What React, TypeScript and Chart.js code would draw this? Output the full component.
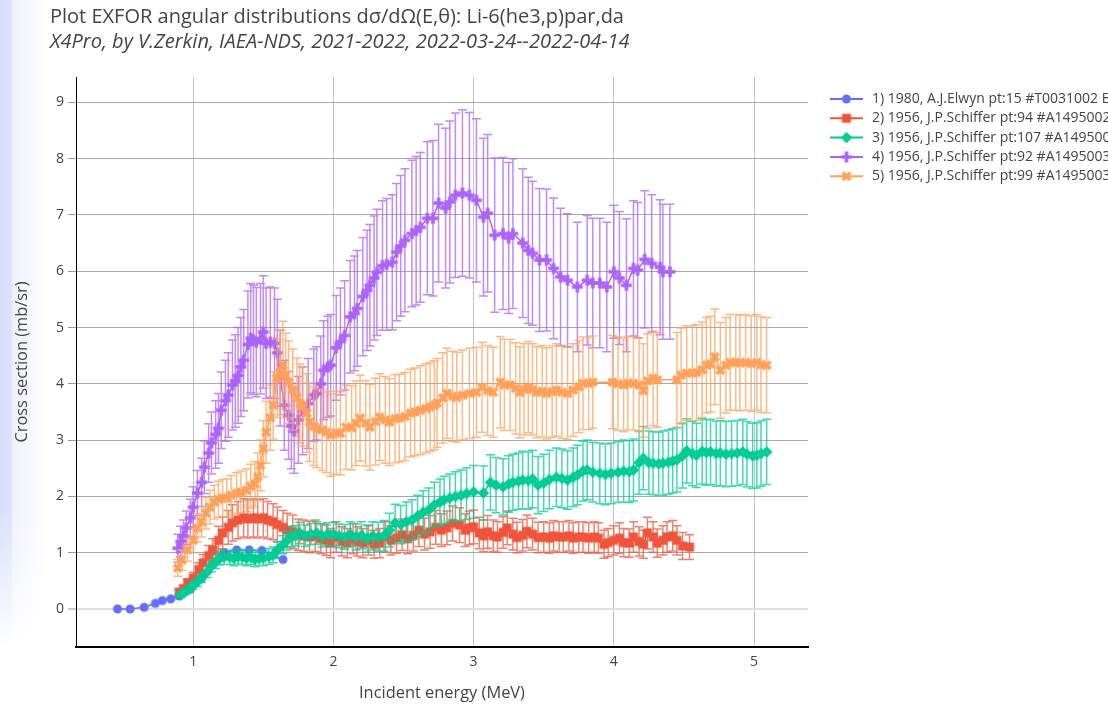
import React, { useEffect, useRef } from 'react';
import { Chart, registerables } from 'chart.js';

Chart.register(...registerables);

const TITLE = 'Plot EXFOR angular distributions dσ/dΩ(E,θ): Li-6(he3,p)par,da';
const SUBTITLE = 'X4Pro, by V.Zerkin, IAEA-NDS, 2021-2022, 2022-03-24--2022-04-14';
const X_LABEL = 'Incident energy (MeV)';
const Y_LABEL = 'Cross section (mb/sr)';
const X_TICKS = [1, 2, 3, 4, 5];
const Y_TICKS = [0, 1, 2, 3, 4, 5, 6, 7, 8, 9];

const LABELS = [
  '1) 1980, A.J.Elwyn pt:15 #T0031002 Elab',
  '2) 1956, J.P.Schiffer pt:94 #A1495002',
  '3) 1956, J.P.Schiffer pt:107 #A1495003',
  '4) 1956, J.P.Schiffer pt:92 #A1495003',
  '5) 1956, J.P.Schiffer pt:99 #A1495003',
];
const COLORS = ['#636efa', '#EF553B', '#00cc96', '#ab63fa', '#FFA15A'];
const SYMBOLS = ['circle', 'square', 'diamond', 'cross', 'x'];

// 1) Elwyn
const S1_X = [0.46, 0.55, 0.65, 0.73, 0.78, 0.84, 0.90, 0.98, 1.06, 1.14, 1.22, 1.31, 1.40, 1.49, 1.64];
const S1_Y = [0.00, 0.00, 0.03, 0.10, 0.15, 0.18, 0.23, 0.35, 0.55, 0.80, 1.00, 1.05, 1.05, 1.04, 0.88];
const S1_ERR: number[] = [];

// 2) Schiffer pt:94
const S2_X = [0.90, 0.93, 0.96, 1.00, 1.04, 1.07, 1.11, 1.14, 1.18, 1.21, 1.25, 1.28, 1.32, 1.36, 1.39, 1.43, 1.46, 1.50, 1.53, 1.57,
  1.60, 1.64, 1.67, 1.71, 1.75, 1.79, 1.83, 1.87, 1.91, 1.95, 1.98, 2.02, 2.06, 2.10, 2.14, 2.17, 2.21, 2.25, 2.29, 2.33,
  2.37, 2.41, 2.45, 2.49, 2.53, 2.57, 2.61, 2.65, 2.69, 2.73, 2.77, 2.81, 2.85, 2.90, 2.94, 2.97, 3.00, 3.04, 3.07, 3.10,
  3.14, 3.17, 3.21, 3.24, 3.28, 3.31, 3.35, 3.38, 3.42, 3.46, 3.50, 3.54, 3.57, 3.61, 3.64, 3.68, 3.71, 3.75, 3.78, 3.82,
  3.86, 3.89, 3.93, 3.96, 4.00, 4.04, 4.07, 4.11, 4.14, 4.18, 4.21, 4.24, 4.28, 4.31, 4.35, 4.38, 4.42, 4.45, 4.49, 4.54];
const S2_Y = [0.30, 0.36, 0.46, 0.55, 0.70, 0.82, 0.95, 1.05, 1.22, 1.35, 1.45, 1.53, 1.58, 1.62, 1.60, 1.62, 1.60, 1.62, 1.58, 1.55,
  1.50, 1.45, 1.40, 1.37, 1.32, 1.30, 1.28, 1.30, 1.25, 1.22, 1.17, 1.28, 1.20, 1.17, 1.25, 1.20, 1.17, 1.22, 1.15, 1.17,
  1.28, 1.22, 1.26, 1.32, 1.25, 1.31, 1.40, 1.33, 1.37, 1.45, 1.40, 1.44, 1.52, 1.49, 1.40, 1.44, 1.46, 1.35, 1.30, 1.37,
  1.30, 1.28, 1.36, 1.44, 1.33, 1.27, 1.31, 1.38, 1.33, 1.27, 1.28, 1.26, 1.30, 1.28, 1.28, 1.30, 1.26, 1.28, 1.28, 1.26,
  1.28, 1.26, 1.15, 1.18, 1.22, 1.26, 1.18, 1.17, 1.28, 1.20, 1.15, 1.35, 1.28, 1.17, 1.22, 1.28, 1.30, 1.22, 1.12, 1.10];
const S2_ERR = [0.05, 0.06, 0.08, 0.10, 0.12, 0.15, 0.18, 0.20, 0.25, 0.28, 0.30, 0.32, 0.33, 0.34, 0.34, 0.34, 0.34, 0.34, 0.33, 0.32,
  0.31, 0.30, 0.30, 0.30, 0.28, 0.28, 0.28, 0.28, 0.27, 0.27, 0.26, 0.27, 0.26, 0.26, 0.27, 0.26, 0.26, 0.26, 0.25, 0.26,
  0.27, 0.26, 0.27, 0.28, 0.27, 0.28, 0.29, 0.28, 0.29, 0.30, 0.29, 0.30, 0.31, 0.31, 0.29, 0.30, 0.30, 0.28, 0.28, 0.29,
  0.28, 0.27, 0.28, 0.30, 0.28, 0.27, 0.28, 0.29, 0.28, 0.27, 0.27, 0.27, 0.27, 0.27, 0.27, 0.27, 0.27, 0.27, 0.27, 0.27,
  0.27, 0.27, 0.25, 0.25, 0.26, 0.27, 0.25, 0.25, 0.27, 0.26, 0.25, 0.28, 0.27, 0.25, 0.26, 0.27, 0.27, 0.26, 0.24, 0.22];

// 3) Schiffer pt:107
const S3_X = [0.91, 0.94, 0.97, 1.00, 1.03, 1.06, 1.10, 1.13, 1.16, 1.19, 1.22, 1.26, 1.29, 1.32, 1.35, 1.38, 1.41, 1.44, 1.47, 1.50,
  1.54, 1.57, 1.60, 1.64, 1.67, 1.70, 1.73, 1.76, 1.80, 1.84, 1.88, 1.92, 1.96, 2.00, 2.04, 2.08, 2.12, 2.16, 2.20, 2.24,
  2.28, 2.32, 2.36, 2.40, 2.44, 2.48, 2.52, 2.56, 2.60, 2.64, 2.68, 2.72, 2.76, 2.79, 2.83, 2.87, 2.91, 2.95, 3.00, 3.07,
  3.12, 3.16, 3.21, 3.25, 3.28, 3.32, 3.35, 3.39, 3.42, 3.46, 3.50, 3.54, 3.59, 3.63, 3.67, 3.71, 3.74, 3.78, 3.81, 3.85,
  3.90, 3.94, 3.98, 4.03, 4.07, 4.11, 4.14, 4.18, 4.21, 4.25, 4.28, 4.32, 4.35, 4.39, 4.42, 4.45, 4.49, 4.52, 4.56, 4.59,
  4.63, 4.66, 4.69, 4.73, 4.76, 4.80, 4.84, 4.88, 4.92, 4.95, 4.99, 5.02, 5.05, 5.09];
const S3_Y = [0.25, 0.30, 0.36, 0.42, 0.48, 0.56, 0.66, 0.76, 0.84, 0.90, 0.92, 0.92, 0.90, 0.93, 0.92, 0.90, 0.92, 0.88, 0.90, 0.90,
  0.93, 0.96, 1.05, 1.14, 1.22, 1.28, 1.30, 1.35, 1.30, 1.33, 1.35, 1.30, 1.33, 1.33, 1.30, 1.28, 1.33, 1.28, 1.31, 1.25,
  1.30, 1.28, 1.30, 1.40, 1.53, 1.50, 1.55, 1.58, 1.65, 1.72, 1.76, 1.85, 1.90, 1.94, 1.97, 2.00, 2.02, 2.05, 2.08, 2.06,
  2.25, 2.20, 2.17, 2.22, 2.25, 2.27, 2.29, 2.28, 2.31, 2.20, 2.24, 2.30, 2.34, 2.32, 2.29, 2.34, 2.38, 2.45, 2.47, 2.43,
  2.41, 2.39, 2.41, 2.43, 2.45, 2.44, 2.47, 2.60, 2.68, 2.60, 2.59, 2.58, 2.59, 2.61, 2.63, 2.65, 2.72, 2.81, 2.76, 2.73,
  2.80, 2.78, 2.79, 2.76, 2.77, 2.75, 2.76, 2.77, 2.79, 2.75, 2.72, 2.73, 2.76, 2.79];
const S3_ERR = [0.05, 0.05, 0.06, 0.07, 0.08, 0.09, 0.10, 0.10, 0.12, 0.12, 0.13, 0.13, 0.13, 0.13, 0.13, 0.13, 0.13, 0.13, 0.13, 0.13,
  0.14, 0.14, 0.15, 0.16, 0.17, 0.18, 0.18, 0.19, 0.19, 0.19, 0.20, 0.20, 0.20, 0.21, 0.21, 0.22, 0.22, 0.23, 0.24, 0.24,
  0.25, 0.26, 0.27, 0.30, 0.33, 0.34, 0.35, 0.36, 0.37, 0.38, 0.39, 0.40, 0.41, 0.42, 0.43, 0.44, 0.45, 0.46, 0.47, 0.48,
  0.49, 0.49, 0.50, 0.50, 0.50, 0.50, 0.51, 0.51, 0.51, 0.51, 0.51, 0.52, 0.52, 0.52, 0.52, 0.52, 0.53, 0.53, 0.53, 0.53,
  0.54, 0.54, 0.54, 0.54, 0.55, 0.55, 0.55, 0.56, 0.56, 0.56, 0.56, 0.56, 0.57, 0.57, 0.57, 0.57, 0.57, 0.57, 0.57, 0.57,
  0.58, 0.58, 0.58, 0.58, 0.58, 0.58, 0.58, 0.58, 0.58, 0.58, 0.58, 0.58, 0.58, 0.58];

// 4) Schiffer pt:92
const S4_X = [0.89, 0.91, 0.93, 0.95, 0.98, 1.00, 1.03, 1.06, 1.08, 1.11, 1.13, 1.16, 1.18, 1.20, 1.23, 1.25, 1.28, 1.30, 1.32, 1.34,
  1.36, 1.39, 1.41, 1.43, 1.45, 1.48, 1.50, 1.52, 1.55, 1.58, 1.60, 1.62, 1.65, 1.68, 1.70, 1.72, 1.75, 1.78, 1.82, 1.86,
  1.88, 1.91, 1.93, 1.96, 1.98, 2.02, 2.05, 2.08, 2.12, 2.15, 2.17, 2.21, 2.24, 2.26, 2.29, 2.31, 2.35, 2.38, 2.42, 2.45,
  2.48, 2.51, 2.56, 2.59, 2.62, 2.67, 2.71, 2.75, 2.80, 2.83, 2.87, 2.92, 2.97, 3.02, 3.07, 3.10, 3.15, 3.21, 3.25, 3.28,
  3.35, 3.39, 3.42, 3.47, 3.52, 3.57, 3.62, 3.67, 3.74, 3.81, 3.85, 3.90, 3.95, 4.00, 4.04, 4.09, 4.14, 4.17, 4.22, 4.27,
  4.33, 4.35, 4.40];
const S4_Y = [1.08, 1.20, 1.30, 1.44, 1.62, 1.81, 2.06, 2.25, 2.52, 2.77, 2.95, 3.10, 3.21, 3.53, 3.70, 3.80, 3.98, 4.05, 4.15, 4.30,
  4.42, 4.70, 4.81, 4.78, 4.74, 4.80, 4.92, 4.72, 4.74, 4.72, 4.55, 4.10, 3.62, 3.44, 3.25, 3.16, 3.36, 3.52, 3.65, 3.80,
  3.83, 4.00, 4.24, 4.30, 4.33, 4.64, 4.75, 4.86, 5.19, 5.25, 5.34, 5.55, 5.66, 5.75, 5.88, 5.98, 6.10, 6.12, 6.16, 6.34,
  6.45, 6.55, 6.67, 6.72, 6.78, 6.94, 6.94, 7.21, 7.12, 7.23, 7.35, 7.39, 7.35, 7.26, 6.96, 7.03, 6.64, 6.67, 6.59, 6.67,
  6.50, 6.37, 6.32, 6.20, 6.20, 6.05, 5.90, 5.84, 5.72, 5.84, 5.79, 5.79, 5.72, 5.99, 5.88, 5.75, 6.05, 6.02, 6.21, 6.14,
  6.07, 5.99, 5.99];
const S4_ERR = [0.25, 0.27, 0.28, 0.30, 0.33, 0.36, 0.40, 0.43, 0.47, 0.52, 0.55, 0.60, 0.62, 0.68, 0.72, 0.75, 0.80, 0.82, 0.85, 0.88,
  0.90, 0.95, 0.97, 0.97, 0.97, 0.98, 1.00, 0.98, 0.98, 0.98, 0.95, 0.85, 0.80, 0.78, 0.76, 0.75, 0.77, 0.78, 0.80, 0.82,
  0.83, 0.85, 0.88, 0.90, 0.90, 0.93, 0.95, 0.97, 1.00, 1.02, 1.03, 1.05, 1.07, 1.08, 1.10, 1.12, 1.15, 1.17, 1.20, 1.22,
  1.25, 1.27, 1.30, 1.32, 1.33, 1.36, 1.38, 1.40, 1.42, 1.44, 1.46, 1.48, 1.47, 1.45, 1.40, 1.40, 1.37, 1.35, 1.34, 1.33,
  1.32, 1.30, 1.28, 1.27, 1.26, 1.25, 1.22, 1.18, 1.15, 1.15, 1.15, 1.15, 1.15, 1.18, 1.18, 1.18, 1.20, 1.20, 1.22, 1.22,
  1.20, 1.20, 1.20];

// 5) Schiffer pt:99
const S5_X = [0.89, 0.92, 0.96, 1.00, 1.03, 1.06, 1.09, 1.12, 1.15, 1.18, 1.21, 1.24, 1.27, 1.31, 1.34, 1.38, 1.41, 1.44, 1.46, 1.48,
  1.50, 1.52, 1.55, 1.57, 1.60, 1.62, 1.64, 1.66, 1.68, 1.71, 1.74, 1.76, 1.78, 1.81, 1.83, 1.86, 1.88, 1.92, 1.95, 1.98,
  2.02, 2.05, 2.09, 2.13, 2.16, 2.19, 2.23, 2.26, 2.30, 2.33, 2.37, 2.40, 2.44, 2.47, 2.51, 2.55, 2.58, 2.62, 2.66, 2.69,
  2.72, 2.74, 2.78, 2.81, 2.85, 2.88, 2.92, 2.97, 3.02, 3.06, 3.10, 3.14, 3.19, 3.22, 3.26, 3.30, 3.33, 3.36, 3.39, 3.42,
  3.45, 3.49, 3.52, 3.56, 3.59, 3.63, 3.67, 3.71, 3.75, 3.78, 3.82, 3.85, 3.99, 4.03, 4.07, 4.10, 4.14, 4.18, 4.21, 4.24,
  4.28, 4.31, 4.45, 4.48, 4.52, 4.56, 4.59, 4.63, 4.66, 4.69, 4.72, 4.76, 4.80, 4.83, 4.87, 4.90, 4.94, 4.98, 5.02, 5.05,
  5.09];
const S5_Y = [0.73, 0.87, 1.05, 1.22, 1.44, 1.55, 1.70, 1.81, 1.90, 1.95, 1.97, 1.97, 2.02, 2.06, 2.08, 2.11, 2.18, 2.22, 2.35, 2.55,
  2.85, 3.14, 3.40, 3.62, 4.10, 4.20, 4.33, 4.15, 4.03, 3.90, 3.76, 3.65, 3.59, 3.48, 3.32, 3.25, 3.21, 3.18, 3.14, 3.09,
  3.13, 3.12, 3.23, 3.22, 3.30, 3.39, 3.30, 3.23, 3.33, 3.41, 3.36, 3.32, 3.38, 3.39, 3.42, 3.48, 3.50, 3.53, 3.56, 3.59,
  3.62, 3.66, 3.75, 3.83, 3.78, 3.76, 3.80, 3.83, 3.85, 3.94, 3.88, 3.85, 4.03, 3.98, 3.98, 3.92, 3.85, 3.90, 3.94, 3.90,
  3.85, 3.87, 3.83, 3.86, 3.89, 3.85, 3.83, 3.89, 3.95, 4.01, 4.01, 4.03, 4.03, 4.00, 3.98, 4.01, 4.01, 3.98, 3.88, 4.05,
  4.10, 4.07, 4.07, 4.15, 4.19, 4.19, 4.20, 4.25, 4.33, 4.35, 4.48, 4.24, 4.33, 4.38, 4.38, 4.37, 4.38, 4.36, 4.38, 4.34,
  4.33];
const S5_ERR = [0.15, 0.18, 0.20, 0.22, 0.25, 0.27, 0.28, 0.30, 0.30, 0.32, 0.33, 0.34, 0.35, 0.36, 0.37, 0.38, 0.39, 0.40, 0.42, 0.45,
  0.50, 0.55, 0.58, 0.60, 0.70, 0.75, 0.78, 0.75, 0.73, 0.72, 0.70, 0.70, 0.70, 0.70, 0.70, 0.70, 0.70, 0.72, 0.72, 0.73,
  0.74, 0.74, 0.75, 0.75, 0.75, 0.76, 0.76, 0.76, 0.77, 0.77, 0.77, 0.77, 0.78, 0.78, 0.78, 0.78, 0.78, 0.79, 0.79, 0.79,
  0.79, 0.79, 0.80, 0.80, 0.80, 0.80, 0.80, 0.80, 0.80, 0.80, 0.80, 0.80, 0.81, 0.81, 0.81, 0.81, 0.81, 0.81, 0.81, 0.81,
  0.81, 0.81, 0.81, 0.81, 0.82, 0.82, 0.82, 0.82, 0.82, 0.82, 0.82, 0.82, 0.83, 0.83, 0.83, 0.83, 0.83, 0.83, 0.83, 0.84,
  0.84, 0.84, 0.84, 0.84, 0.84, 0.84, 0.85, 0.85, 0.85, 0.85, 0.85, 0.85, 0.85, 0.85, 0.85, 0.85, 0.85, 0.85, 0.85, 0.85,
  0.85];

const SERIES_X = [S1_X, S2_X, S3_X, S4_X, S5_X];
const SERIES_Y = [S1_Y, S2_Y, S3_Y, S4_Y, S5_Y];
const SERIES_ERR = [S1_ERR, S2_ERR, S3_ERR, S4_ERR, S5_ERR];

const FONT = '"Open Sans", "Noto Sans", sans-serif';
const TEXT_COLOR = '#444';

function rgba(hex: string, a: number) {
  const n = parseInt(hex.slice(1), 16);
  return `rgba(${(n >> 16) & 255},${(n >> 8) & 255},${n & 255},${a})`;
}

function makeMarker(symbol: string, color: string): HTMLCanvasElement {
  const r = 4.5;
  const size = 16;
  const c = document.createElement('canvas');
  c.width = size;
  c.height = size;
  const ctx = c.getContext('2d') as CanvasRenderingContext2D;
  ctx.translate(size / 2, size / 2);
  ctx.fillStyle = color;
  ctx.beginPath();
  if (symbol === 'circle') {
    ctx.arc(0, 0, r, 0, Math.PI * 2);
  } else if (symbol === 'square') {
    ctx.rect(-r, -r, 2 * r, 2 * r);
  } else if (symbol === 'diamond') {
    const d = r * 1.3;
    ctx.moveTo(d, 0); ctx.lineTo(0, d); ctx.lineTo(-d, 0); ctx.lineTo(0, -d); ctx.closePath();
  } else if (symbol === 'cross') {
    const rc = r * 1.2, rt = r * 0.4;
    ctx.moveTo(rc, rt); ctx.lineTo(rt, rt); ctx.lineTo(rt, rc); ctx.lineTo(-rt, rc); ctx.lineTo(-rt, rt);
    ctx.lineTo(-rc, rt); ctx.lineTo(-rc, -rt); ctx.lineTo(-rt, -rt); ctx.lineTo(-rt, -rc); ctx.lineTo(rt, -rc);
    ctx.lineTo(rt, -rt); ctx.lineTo(rc, -rt); ctx.closePath();
  } else {
    const q = (r * 0.8) / Math.SQRT2;
    ctx.moveTo(0, q); ctx.lineTo(q, 2 * q); ctx.lineTo(2 * q, q); ctx.lineTo(q, 0); ctx.lineTo(2 * q, -q);
    ctx.lineTo(q, -2 * q); ctx.lineTo(0, -q); ctx.lineTo(-q, -2 * q); ctx.lineTo(-2 * q, -q); ctx.lineTo(-q, 0);
    ctx.lineTo(-2 * q, q); ctx.lineTo(-q, 2 * q); ctx.closePath();
  }
  ctx.fill();
  return c;
}

export default function App() {
  const ref = useRef<HTMLCanvasElement>(null);

  useEffect(() => {
    const canvas = ref.current;
    if (!canvas) return;
    const markers = SYMBOLS.map((s, i) => makeMarker(s, COLORS[i]));

    const datasets = LABELS.map((label, i) => ({
      label,
      data: SERIES_X[i].map((xv, j) => ({ x: xv, y: SERIES_Y[i][j] })),
      errors: SERIES_ERR[i],
      errColor: rgba(COLORS[i], 0.75),
      borderColor: COLORS[i],
      backgroundColor: COLORS[i],
      borderWidth: 1.5,
      pointStyle: markers[i],
      pointRadius: 5,
      pointHoverRadius: 5,
      showLine: true,
      order: LABELS.length - 1 - i,
    }));

    const errorBars = {
      id: 'errorBars',
      beforeDatasetDraw(chart: any, args: any) {
        const ds = chart.data.datasets[args.index];
        const errs: number[] = ds.errors;
        if (!errs || !errs.length) return;
        const { ctx, chartArea } = chart;
        const xs = chart.scales.x;
        const ys = chart.scales.y;
        ctx.save();
        ctx.beginPath();
        ctx.rect(chartArea.left, chartArea.top, chartArea.right - chartArea.left, chartArea.bottom - chartArea.top);
        ctx.clip();
        ctx.strokeStyle = ds.errColor;
        ctx.lineWidth = 1.5;
        ctx.beginPath();
        ds.data.forEach((p: any, j: number) => {
          const e = errs[j];
          if (!e) return;
          const px = xs.getPixelForValue(p.x);
          const t = ys.getPixelForValue(p.y + e);
          const b = ys.getPixelForValue(p.y - e);
          ctx.moveTo(px, t); ctx.lineTo(px, b);
          ctx.moveTo(px - 4.5, t); ctx.lineTo(px + 4.5, t);
          ctx.moveTo(px - 4.5, b); ctx.lineTo(px + 4.5, b);
        });
        ctx.stroke();
        ctx.restore();
      },
    };

    const decorations = {
      id: 'decorations',
      afterDraw(chart: any) {
        const ctx = chart.ctx as CanvasRenderingContext2D;
        ctx.save();
        ctx.fillStyle = TEXT_COLOR;
        ctx.textBaseline = 'middle';
        ctx.textAlign = 'left';
        ctx.font = `20px ${FONT}`;
        ctx.fillText(TITLE, 50, 17);
        ctx.font = `italic 20px ${FONT}`;
        ctx.fillText(SUBTITLE, 50, 42);
        // legend
        const lx = 830;
        ctx.font = `14px ${FONT}`;
        LABELS.forEach((label, i) => {
          const y = 99 + i * 19.3;
          ctx.strokeStyle = COLORS[i];
          ctx.lineWidth = 2;
          ctx.beginPath();
          ctx.moveTo(lx, y);
          ctx.lineTo(lx + 33, y);
          ctx.stroke();
          const m = markers[i];
          ctx.drawImage(m, lx + 16.5 - m.width / 2, y - m.height / 2);
          ctx.fillStyle = TEXT_COLOR;
          ctx.fillText(label, lx + 42, y);
        });
        ctx.restore();
      },
    };

    const chart = new Chart(canvas, {
      type: 'scatter',
      data: { datasets: datasets as any },
      plugins: [errorBars, decorations],
      options: {
        responsive: false,
        animation: false,
        devicePixelRatio: 1,
        events: [],
        layout: { padding: { left: 0, right: 300, top: 77, bottom: 0 } },
        plugins: {
          legend: { display: false },
          tooltip: { enabled: false },
          title: { display: false },
        },
        scales: {
          x: {
            type: 'linear',
            min: 0.164,
            max: 5.385,
            afterBuildTicks: (s: any) => { s.ticks = X_TICKS.map((v) => ({ value: v })); },
            afterFit: (s: any) => { s.height = 58; },
            ticks: { color: TEXT_COLOR, font: { family: FONT, size: 14 }, padding: 7 },
            grid: { color: '#c4c4c4', lineWidth: 1, drawTicks: false },
            border: { display: true, color: '#000', width: 2 },
            title: {
              display: true,
              text: X_LABEL,
              color: TEXT_COLOR,
              font: { family: FONT, size: 16.4 },
              padding: { top: 0, bottom: 2 },
            },
          },
          y: {
            type: 'linear',
            min: -0.675,
            max: 9.45,
            afterBuildTicks: (s: any) => { s.ticks = Y_TICKS.map((v) => ({ value: v })); },
            afterFit: (s: any) => { s.width = 76; },
            ticks: { color: TEXT_COLOR, font: { family: FONT, size: 14 }, padding: 4 },
            grid: {
              color: (c: any) => (c.tick && c.tick.value === 0 ? '#e0e0e0' : '#a8a8a8'),
              lineWidth: (c: any) => (c.tick && c.tick.value === 0 ? 2 : 1),
              tickColor: '#9a9a9a',
              tickWidth: 1,
              tickLength: 8,
              drawTicks: true,
            },
            border: { display: true, color: '#000', width: 1 },
            title: {
              display: true,
              text: Y_LABEL,
              color: TEXT_COLOR,
              font: { family: FONT, size: 16.4 },
              padding: { top: 12, bottom: 0 },
            },
          },
        },
      } as any,
    });

    return () => chart.destroy();
  }, []);

  return (
    <div
      style={{
        position: 'fixed',
        left: 0,
        top: 0,
        width: 1108,
        height: 705,
        overflow: 'hidden',
        background:
          'linear-gradient(to bottom, rgba(255,255,255,0) 0%, rgba(255,255,255,0) 72%, #ffffff 92%), ' +
          'linear-gradient(to right, #d7dff9 0px, #dbe2fa 11px, #eef1fd 13px, #f8f9ff 32px, #ffffff 48px)',
      }}
    >
      <canvas ref={ref} width={1108} height={705} style={{ position: 'absolute', left: 0, top: 0 }} />
    </div>
  );
}
